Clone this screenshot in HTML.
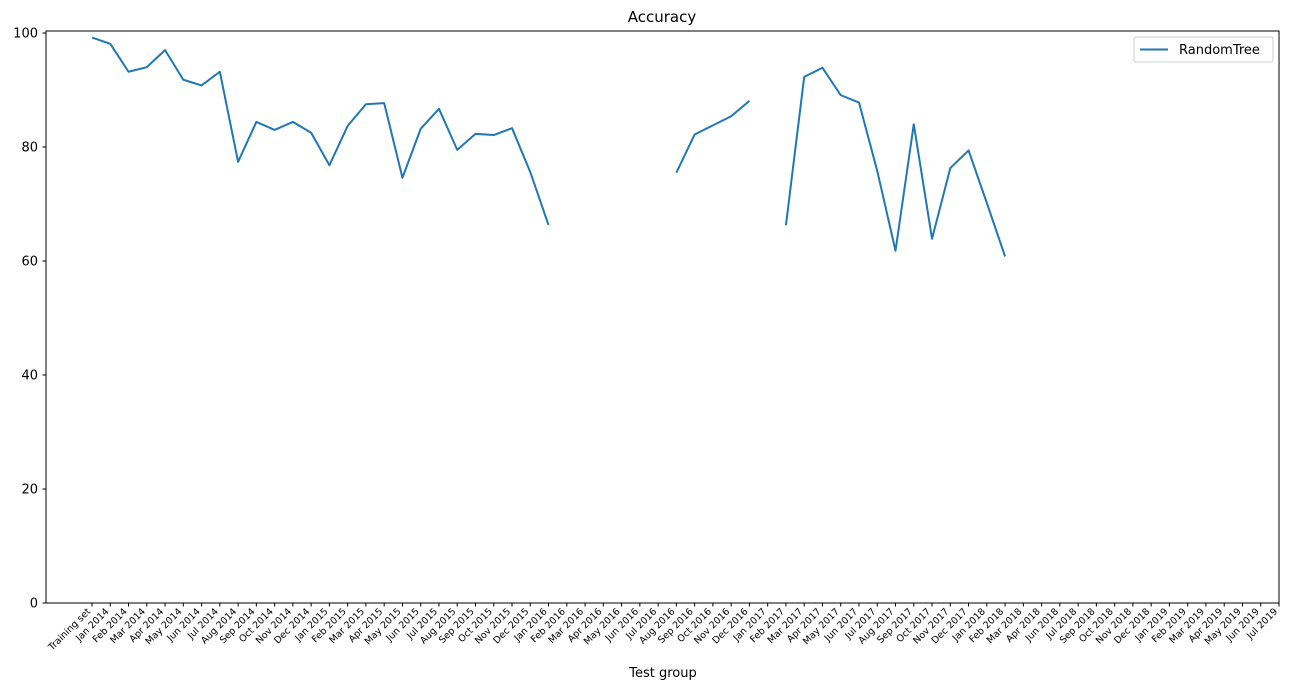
<!DOCTYPE html>
<html><head><meta charset="utf-8"><style>
html,body{margin:0;padding:0;background:#fff;}
svg{display:block;font-family:"DejaVu Sans","Liberation Sans",sans-serif;}
</style></head><body>
<svg id="chart" width="1289" height="690" viewBox="0 0 1289 690" xmlns="http://www.w3.org/2000/svg">
<rect x="0" y="0" width="1289" height="690" fill="#fff"/>
<text x="662" y="22" font-size="15" text-anchor="middle" fill="#000">Accuracy</text>
<g id="yaxis"></g>
<g id="xaxis"></g>
<g id="series"></g>
<rect x="46" y="31" width="1233" height="572" fill="none" stroke="#000" stroke-width="1"/>
<text x="663" y="677" font-size="13" text-anchor="middle" fill="#000">Test group</text>
<g>
<rect x="1134" y="37" width="139" height="25" rx="2" fill="#fff" stroke="#ccc" stroke-width="1"/>
<line x1="1140" y1="49.5" x2="1168" y2="49.5" stroke="#1f77b4" stroke-width="2"/>
<text x="1179" y="54" font-size="13" fill="#000">RandomTree</text>
</g>
</svg>
<script>
const categories = ["Training set","Jan 2014","Feb 2014","Mar 2014","Apr 2014","May 2014","Jun 2014","Jul 2014","Aug 2014","Sep 2014","Oct 2014","Nov 2014","Dec 2014","Jan 2015","Feb 2015","Mar 2015","Apr 2015","May 2015","Jun 2015","Jul 2015","Aug 2015","Sep 2015","Oct 2015","Nov 2015","Dec 2015","Jan 2016","Feb 2016","Mar 2016","Apr 2016","May 2016","Jun 2016","Jul 2016","Aug 2016","Sep 2016","Oct 2016","Nov 2016","Dec 2016","Jan 2017","Feb 2017","Mar 2017","Apr 2017","May 2017","Jun 2017","Jul 2017","Aug 2017","Sep 2017","Oct 2017","Nov 2017","Dec 2017","Jan 2018","Feb 2018","Mar 2018","Apr 2018","Jun 2018","Jul 2018","Sep 2018","Oct 2018","Nov 2018","Dec 2018","Jan 2019","Feb 2019","Mar 2019","Apr 2019","May 2019","Jun 2019","Jul 2019"];
const randomTree = [99.2,98.1,93.2,94.0,97.0,91.8,90.8,93.2,77.4,84.4,83.0,84.4,82.5,76.8,83.7,87.5,87.7,74.6,83.2,86.7,79.5,82.3,82.1,83.3,75.6,66.3,null,null,null,null,null,null,75.5,82.2,83.8,85.4,88.1,null,66.3,92.3,93.9,89.1,87.8,75.8,61.8,84.0,63.9,76.3,79.4,70.2,60.8,null,null,null,null,null,null,null,null,null,null,null,null,null,null,null];
const yTicks = [0,20,40,60,80,100];

const NS="http://www.w3.org/2000/svg";
const X0=92, XS=(1279-92)/(categories.length-1);
const Y0=603, YK=5.7;
function xPos(i){return X0+i*XS;}
function yPos(v){return Y0-v*YK;}
function mk(tag,attrs,parent){const e=document.createElementNS(NS,tag);for(const k in attrs)e.setAttribute(k,attrs[k]);parent.appendChild(e);return e;}

const ya=document.getElementById('yaxis');
yTicks.forEach(t=>{
  const y=yPos(t);
  const l=mk('line',{x1:42.5,x2:46,y1:y,y2:y,stroke:'#000'},ya);
  
  
  const tx=mk('text',{x:38,y:y+4.5,'font-size':13,'text-anchor':'end',fill:'#000'},ya);
  
  
  tx.textContent=t;
});

const xa=document.getElementById('xaxis');
categories.forEach((c,i)=>{
  const x=xPos(i);
  const l=mk('line',{x1:x,x2:x,y1:603,y2:606.5,stroke:'#000'},xa);
  
  
  const ax=x-1, ay=612;
  const tx=mk('text',{x:ax,y:ay,'font-size':9.5,'text-anchor':'end',fill:'#000',transform:'rotate(-45 '+ax+' '+ay+')'},xa);
  
  
  tx.textContent=c;
});

const sg=document.getElementById('series');
let d='', pen=false;
randomTree.forEach((v,i)=>{
  if(v===null){pen=false;return;}
  d+=(pen?'L':'M')+xPos(i).toFixed(2)+' '+yPos(v).toFixed(2)+' ';
  pen=true;
});
const p=mk('path',{d:d,fill:'none',stroke:'#1f77b4','stroke-width':2,'stroke-linejoin':'round'},sg);


</script>
</body></html>
